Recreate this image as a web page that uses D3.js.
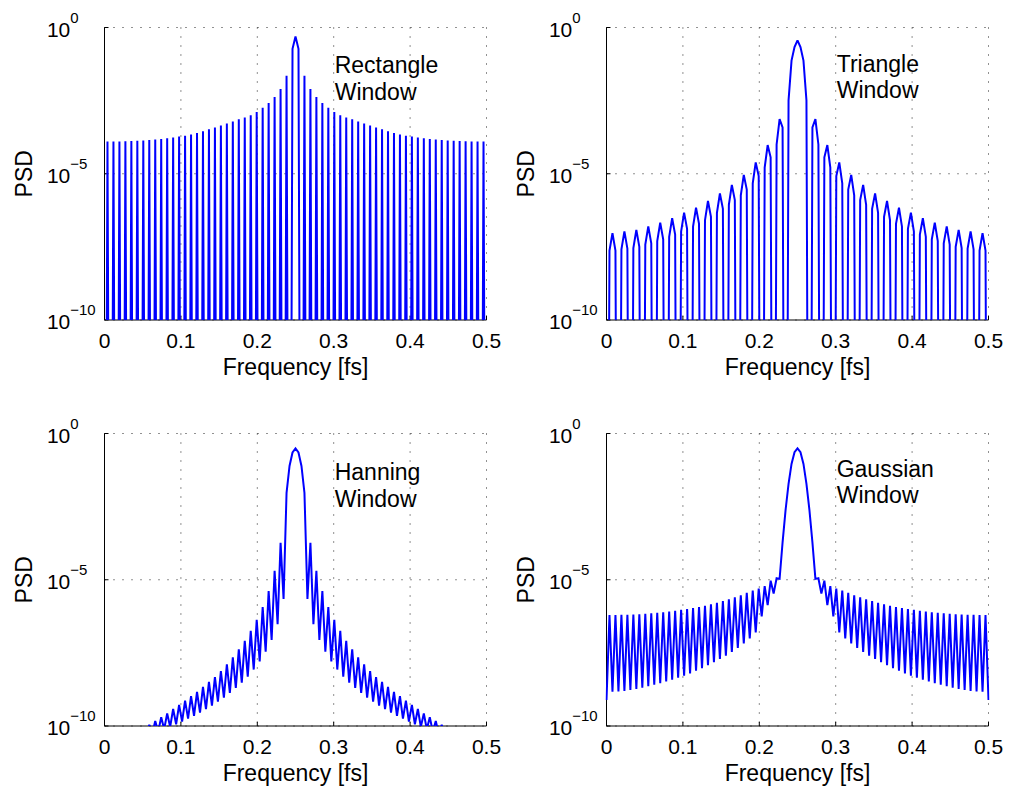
<!DOCTYPE html>
<html>
<head>
<meta charset="utf-8">
<script src="https://cdn.jsdelivr.net/npm/d3@7"></script>
<style>
  body { margin: 0; background: #fff; }
  svg { display: block; font-family: "Liberation Sans", Arial, Helvetica, sans-serif; }
</style>
</head>
<body>
<div id="plot"></div>
<script>
// PSD, stored as log10(PSD), one value per FFT bin (bins 0..128)
const binStep = 1 / 256;   // frequency of one bin, in fs
const xTicks = [0, 0.1, 0.2, 0.3, 0.4, 0.5];
const yTickExps = [0, -5, -10];

const rectLog = [
  -30, -3.90, -30, -3.90, -30, -3.90, -30, -3.89,
  -30, -3.88, -30, -3.87, -30, -3.86, -30, -3.85,
  -30, -3.83, -30, -3.81, -30, -3.79, -30, -3.76,
  -30, -3.73, -30, -3.70, -30, -3.66, -30, -3.61,
  -30, -3.55, -30, -3.48, -30, -3.42, -30, -3.35,
  -30, -3.28, -30, -3.21, -30, -3.14, -30, -3.08,
  -30, -3.00, -30, -2.89, -30, -2.74, -30, -2.58,
  -30, -2.38, -30, -2.10, -30, -1.65, -30, -0.73,
  -0.31,
  -0.73, -30, -1.65, -30, -2.10, -30, -2.38, -30,
  -2.58, -30, -2.74, -30, -2.89, -30, -3.00, -30,
  -3.08, -30, -3.14, -30, -3.21, -30, -3.28, -30,
  -3.35, -30, -3.42, -30, -3.48, -30, -3.55, -30,
  -3.61, -30, -3.66, -30, -3.70, -30, -3.73, -30,
  -3.76, -30, -3.79, -30, -3.81, -30, -3.83, -30,
  -3.85, -30, -3.86, -30, -3.87, -30, -3.88, -30,
  -3.89, -30, -3.90, -30, -3.90, -30, -3.90, -30
];

const triLog = [
  -30, -7.63, -7.03, -7.63, -30, -7.58, -6.97, -7.56,
  -30, -7.54, -6.92, -7.50, -30, -7.42, -6.80, -7.38,
  -30, -7.30, -6.67, -7.24, -30, -7.16, -6.52, -7.08,
  -30, -6.98, -6.33, -6.88, -30, -6.81, -6.16, -6.71,
  -30, -6.59, -5.93, -6.47, -30, -6.34, -5.67, -6.20,
  -30, -6.06, -5.38, -5.90, -30, -5.74, -5.04, -5.54,
  -30, -5.33, -4.61, -5.08, -30, -4.79, -4.02, -4.44,
  -30, -4.00, -3.13, -3.42, -30, -2.49, -1.13, -0.67,
  -0.44,
  -0.67, -1.13, -2.49, -30, -3.42, -3.13, -4.00, -30,
  -4.44, -4.02, -4.79, -30, -5.08, -4.61, -5.33, -30,
  -5.54, -5.04, -5.74, -30, -5.90, -5.38, -6.06, -30,
  -6.20, -5.67, -6.34, -30, -6.47, -5.93, -6.59, -30,
  -6.71, -6.16, -6.81, -30, -6.88, -6.33, -6.98, -30,
  -7.08, -6.52, -7.16, -30, -7.24, -6.67, -7.30, -30,
  -7.38, -6.80, -7.42, -30, -7.50, -6.92, -7.54, -30,
  -7.56, -6.97, -7.58, -30, -7.63, -7.03, -7.63, -30
];

const hannLog = [
  -10.80, -10.80, -10.76, -10.70, -10.70, -10.60, -10.64, -10.50,
  -10.57, -10.36, -10.50, -10.24, -10.42, -10.12, -10.35, -9.96,
  -10.27, -9.83, -10.19, -9.70, -10.11, -9.57, -10.03, -9.42,
  -9.94, -9.28, -9.85, -9.13, -9.75, -8.98, -9.65, -8.83,
  -9.54, -8.66, -9.42, -8.49, -9.30, -8.33, -9.17, -8.12,
  -9.03, -7.89, -8.87, -7.65, -8.70, -7.38, -8.52, -7.09,
  -8.31, -6.75, -8.07, -6.37, -7.79, -5.93, -7.46, -5.39,
  -7.06, -4.69, -6.52, -3.74, -5.66, -2.03, -1.11, -0.65,
  -0.51,
  -0.65, -1.11, -2.03, -5.66, -3.74, -6.52, -4.69, -7.06,
  -5.39, -7.46, -5.93, -7.79, -6.37, -8.07, -6.75, -8.31,
  -7.09, -8.52, -7.38, -8.70, -7.65, -8.87, -7.89, -9.03,
  -8.12, -9.17, -8.33, -9.30, -8.49, -9.42, -8.66, -9.54,
  -8.83, -9.65, -8.98, -9.75, -9.13, -9.85, -9.28, -9.94,
  -9.42, -10.03, -9.57, -10.11, -9.70, -10.19, -9.83, -10.27,
  -9.96, -10.35, -10.12, -10.42, -10.24, -10.50, -10.36, -10.57,
  -10.50, -10.64, -10.60, -10.70, -10.70, -10.76, -10.80, -10.80
];

const gaussLog = [
  -9.11, -6.21, -8.83, -6.21, -8.82, -6.20, -8.80, -6.20,
  -8.77, -6.19, -8.73, -6.18, -8.69, -6.16, -8.64, -6.15,
  -8.59, -6.13, -8.54, -6.11, -8.48, -6.09, -8.42, -6.06,
  -8.35, -6.03, -8.28, -6.00, -8.20, -5.97, -8.11, -5.93,
  -8.02, -5.89, -7.92, -5.84, -7.82, -5.79, -7.71, -5.73,
  -7.60, -5.67, -7.47, -5.60, -7.33, -5.53, -7.18, -5.45,
  -7.01, -5.37, -6.80, -5.30, -6.25, -5.22, -5.87, -5.03,
  -5.47, -4.95, -4.97, -3.72, -2.62, -1.72, -1.04, -0.64,
  -0.51,
  -0.64, -1.04, -1.72, -2.62, -3.72, -4.97, -4.95, -5.47,
  -5.03, -5.87, -5.22, -6.25, -5.30, -6.80, -5.37, -7.01,
  -5.45, -7.18, -5.53, -7.33, -5.60, -7.47, -5.67, -7.60,
  -5.73, -7.71, -5.79, -7.82, -5.84, -7.92, -5.89, -8.02,
  -5.93, -8.11, -5.97, -8.20, -6.00, -8.28, -6.03, -8.35,
  -6.06, -8.42, -6.09, -8.48, -6.11, -8.54, -6.13, -8.59,
  -6.15, -8.64, -6.16, -8.69, -6.18, -8.73, -6.19, -8.77,
  -6.20, -8.80, -6.20, -8.82, -6.21, -8.83, -6.21, -9.11
];

// one entry per subplot; label position is in data units (x in fs, y as log10)
const panels = [
  { title: "Rectangle", values: rectLog,  col: 0, row: 0, labelX: 0.3, labelY: -1.57 },
  { title: "Triangle",  values: triLog,   col: 1, row: 0, labelX: 0.3, labelY: -1.51 },
  { title: "Hanning",   values: hannLog,  col: 0, row: 1, labelX: 0.3, labelY: -1.59 },
  { title: "Gaussian",  values: gaussLog, col: 1, row: 1, labelX: 0.3, labelY: -1.48 }
];

// axes boxes, same as the matlab subplot layout
const cols = [104.5, 606.5];
const rows = [27.5, 433.5];
const pw = 382, ph = 292.5;

const svg = d3.select("div#plot")
  .append("svg")
  .attr("width", 1017)
  .attr("height", 790);

svg.append("rect")
  .attr("width", 1017)
  .attr("height", 790)
  .attr("fill", "#fff");

const xScale = d3.scaleLinear().domain([0, 0.5]).range([0, pw]);
const yScale = d3.scaleLog().domain([1e-10, 1]).range([ph, 0]);

const line = d3.line()
  .x((d, i) => xScale(i * binStep))
  .y(d => yScale(Math.pow(10, d)));

panels.forEach((p, idx) => {
  const g = svg.append("g")
    .attr("transform", `translate(${cols[p.col]},${rows[p.row]})`);

  const clipId = "clip" + idx;
  g.append("clipPath").attr("id", clipId)
    .append("rect")
    .attr("x", -1).attr("y", -2)
    .attr("width", pw + 2).attr("height", ph + 2);

  // dotted grid
  g.selectAll(".vgrid").data(xTicks).enter().append("line")
    .attr("class", "vgrid")
    .attr("x1", d => xScale(d)).attr("x2", d => xScale(d))
    .attr("y1", 0).attr("y2", ph)
    .attr("stroke", "#222").attr("stroke-width", 1)
    .attr("stroke-dasharray", "1,8");

  g.selectAll(".hgrid").data(yTickExps).enter().append("line")
    .attr("class", "hgrid")
    .attr("x1", 0).attr("x2", pw)
    .attr("y1", d => yScale(Math.pow(10, d))).attr("y2", d => yScale(Math.pow(10, d)))
    .attr("stroke", "#222").attr("stroke-width", 1)
    .attr("stroke-dasharray", "1,8");

  // left and bottom axis lines with inward ticks
  g.append("line").attr("x1", 0).attr("x2", 0).attr("y1", 0).attr("y2", ph)
    .attr("stroke", "#000").attr("stroke-width", 1);
  g.append("line").attr("x1", 0).attr("x2", pw).attr("y1", ph).attr("y2", ph)
    .attr("stroke", "#000").attr("stroke-width", 1);

  g.selectAll(".xtick").data(xTicks).enter().append("line")
    .attr("x1", d => xScale(d)).attr("x2", d => xScale(d))
    .attr("y1", ph).attr("y2", ph - 4)
    .attr("stroke", "#000");
  g.selectAll(".ytick").data(yTickExps).enter().append("line")
    .attr("x1", 0).attr("x2", 4)
    .attr("y1", d => yScale(Math.pow(10, d))).attr("y2", d => yScale(Math.pow(10, d)))
    .attr("stroke", "#000");

  // spectrum
  g.append("path")
    .datum(p.values)
    .attr("clip-path", `url(#${clipId})`)
    .attr("d", line)
    .attr("fill", "none")
    .attr("stroke", "#0000ff")
    .attr("stroke-width", 2)
    .attr("stroke-linejoin", "miter")
    .attr("stroke-miterlimit", 2);

  // tick labels
  g.selectAll(".xlab").data(xTicks).enter().append("text")
    .attr("x", d => xScale(d))
    .attr("y", ph + 28.3)
    .attr("text-anchor", "middle")
    .style("font-size", "21px")
    .text(d => String(d));

  const ylab = g.selectAll(".ylab").data(yTickExps).enter().append("text")
    .attr("x", -57.6)
    .attr("y", d => yScale(Math.pow(10, d)) + 9)
    .style("font-size", "21px");
  ylab.append("tspan").text("10");
  ylab.append("tspan")
    .attr("dy", -14)
    .style("font-size", "15px")
    .text(d => d === 0 ? "0" : "\u2212" + Math.abs(d));

  // axis labels
  g.append("text")
    .attr("x", pw / 2)
    .attr("y", ph + 55)
    .attr("text-anchor", "middle")
    .style("font-size", "23px")
    .text("Frequency [fs]");

  g.append("text")
    .attr("transform", `translate(-72.6,${ph / 2}) rotate(-90)`)
    .attr("text-anchor", "middle")
    .style("font-size", "23px")
    .text("PSD");

  // window name
  const ann = g.append("text")
    .attr("x", xScale(p.labelX) + 1)
    .attr("y", yScale(Math.pow(10, p.labelY)))
    .style("font-size", "23px");
  ann.append("tspan").text(p.title);
  ann.append("tspan")
    .attr("x", xScale(p.labelX) + 1)
    .attr("dy", 26.5)
    .text("Window");
});
</script>
</body>
</html>
